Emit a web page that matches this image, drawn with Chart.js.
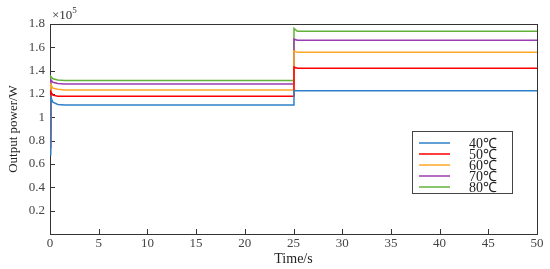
<!DOCTYPE html>
<html>
<head>
<meta charset="utf-8">
<script src="https://cdn.jsdelivr.net/npm/chart.js@4/dist/chart.umd.min.js"></script>
<style>
  html, body { margin: 0; padding: 0; background: #fff; }
  #wrap { width: 550px; height: 269px; }
</style>
</head>
<body>
<div id="wrap"><canvas id="powerChart"></canvas></div>
<script>
// time points (s) shared by all series
const timeS = [0, 0.08, 0.3, 0.8, 1.5, 25, 25.05, 25.4, 50];

// output power, x10^5 W
const p40 = [0.68, 1.17, 1.13, 1.11, 1.105, 1.105, 1.23, 1.228, 1.228];
const p50 = [0.74, 1.22, 1.19, 1.18, 1.18, 1.18, 1.43, 1.42, 1.42];
const p60 = [0.80, 1.28, 1.25, 1.24, 1.235, 1.235, 1.57, 1.557, 1.557];
const p70 = [0.86, 1.32, 1.30, 1.29, 1.285, 1.285, 1.67, 1.66, 1.66];
const p80 = [0.93, 1.35, 1.33, 1.32, 1.315, 1.315, 1.763, 1.737, 1.737];

const seriesLabels = ['40℃', '50℃', '60℃', '70℃', '80℃'];
const seriesColors = ['#2f80c8', '#ff0000', '#ffa726', '#9b3db0', '#62b23a'];
const xTicks = [0, 5, 10, 15, 20, 25, 30, 35, 40, 45, 50];
const yTicks = [0.2, 0.4, 0.6, 0.8, 1, 1.2, 1.4, 1.6, 1.8];

const FONT = "'Times New Roman', 'Liberation Serif', serif";

function toPoints(vals) {
    return timeS.map((t, i) => ({ x: t, y: vals[i] }));
}

const allSeries = [p40, p50, p60, p70, p80];
const datasets = allSeries.map((vals, i) => ({
    label: seriesLabels[i],
    data: toPoints(vals),
    borderColor: seriesColors[i],
    backgroundColor: seriesColors[i],
    borderWidth: 1.5,
    pointRadius: 0,
    tension: 0,
    clip: false
}));

// frame + inward ticks under the lines, exponent and boxed legend on top
const framePlugin = {
    id: 'frame',
    beforeDatasetsDraw(chart) {
        const ctx = chart.ctx;
        const a = chart.chartArea;
        const xs = chart.scales.x;
        const ys = chart.scales.y;
        ctx.save();
        ctx.strokeStyle = '#333';
        ctx.lineWidth = 1;
        ctx.strokeRect(a.left + 0.5, a.top + 0.5, a.right - a.left, a.bottom - a.top);

        ctx.beginPath();
        xTicks.forEach(v => {
            const px = Math.round(xs.getPixelForValue(v)) + 0.5;
            ctx.moveTo(px, a.bottom);
            ctx.lineTo(px, a.bottom - 5);
        });
        yTicks.forEach(v => {
            const py = Math.round(ys.getPixelForValue(v)) + 0.5;
            ctx.moveTo(a.left, py);
            ctx.lineTo(a.left + 5, py);
        });
        ctx.stroke();
        ctx.restore();
    },
    afterDraw(chart) {
        const ctx = chart.ctx;
        const a = chart.chartArea;
        ctx.save();

        // x10^5 label
        ctx.fillStyle = '#333';
        ctx.textBaseline = 'alphabetic';
        ctx.textAlign = 'left';
        ctx.font = '13px ' + FONT;
        ctx.fillText('×10', a.left + 2, a.top - 5);
        const w = ctx.measureText('×10').width;
        ctx.font = '9px ' + FONT;
        ctx.fillText('5', a.left + 2 + w, a.top - 11);

        // legend box
        const bx = 412, by = 131, bw = 100, bh = 62;
        ctx.fillStyle = '#fff';
        ctx.fillRect(bx, by, bw, bh);
        ctx.strokeStyle = '#444';
        ctx.lineWidth = 1;
        ctx.strokeRect(bx + 0.5, by + 0.5, bw, bh);
        ctx.font = '14px ' + FONT;
        ctx.textBaseline = 'middle';
        chart.data.datasets.forEach((ds, i) => {
            const yy = by + 12 + i * 11;
            ctx.strokeStyle = ds.borderColor;
            ctx.lineWidth = 1.5;
            ctx.beginPath();
            ctx.moveTo(bx + 7, yy);
            ctx.lineTo(bx + 38, yy);
            ctx.stroke();
            ctx.fillStyle = '#222';
            ctx.fillText(ds.label, bx + 57, yy + 1);
        });
        ctx.restore();
    }
};

new Chart(document.getElementById('powerChart'), {
    type: 'line',
    data: { datasets: datasets },
    options: {
        responsive: true,
        maintainAspectRatio: false,
        animation: false,
        layout: { padding: { top: 24, right: 13, left: 0, bottom: 0 } },
        plugins: {
            legend: { display: false },
            tooltip: { enabled: false }
        },
        scales: {
            x: {
                type: 'linear',
                min: 0,
                max: 50,
                afterBuildTicks: s => { s.ticks = xTicks.map(v => ({ value: v })); },
                afterFit: s => { s.height = 35; },
                grid: { display: false, drawTicks: false },
                border: { display: false },
                ticks: {
                    padding: 2,
                    color: '#444',
                    font: { family: FONT, size: 13 },
                    maxRotation: 0
                },
                title: {
                    display: true,
                    text: 'Time/s',
                    color: '#222',
                    font: { family: FONT, size: 14 },
                    padding: { top: 0, bottom: 1 }
                }
            },
            y: {
                min: 0,
                max: 1.8,
                afterBuildTicks: s => { s.ticks = yTicks.map(v => ({ value: v })); },
                afterFit: s => { s.width = 50; },
                grid: { display: false, drawTicks: false },
                border: { display: false },
                ticks: {
                    padding: 5,
                    color: '#444',
                    font: { family: FONT, size: 13 },
                    callback: v => String(Number(v.toFixed(1)))
                },
                title: {
                    display: true,
                    text: 'Output power/W',
                    color: '#222',
                    font: { family: FONT, size: 13 },
                    padding: { top: 6, bottom: 0 }
                }
            }
        }
    },
    plugins: [framePlugin]
});
</script>
</body>
</html>
